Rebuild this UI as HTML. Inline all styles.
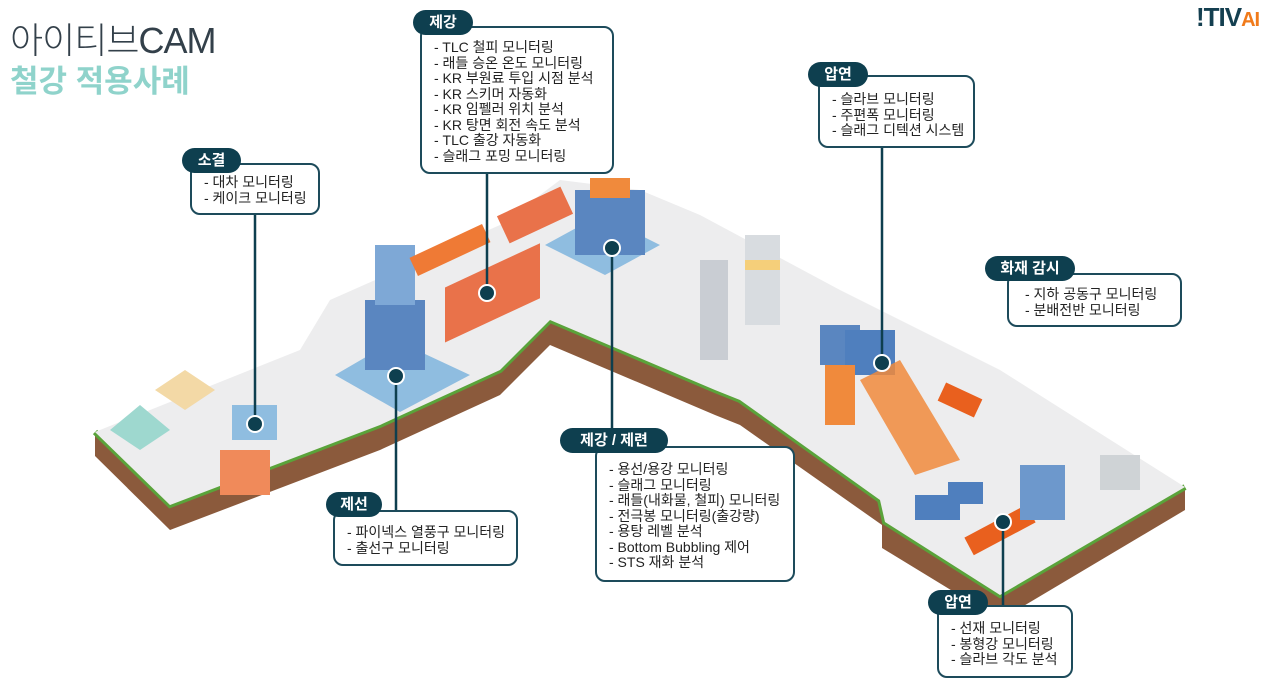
<!DOCTYPE html>
<html><head><meta charset="utf-8"><style>
*{margin:0;padding:0;box-sizing:border-box}
body{width:1280px;height:684px;background:#fff;position:relative;overflow:hidden;font-family:"Liberation Sans","Noto Sans CJK KR",sans-serif}
.box{position:absolute;background:#fff;border:2px solid #1d4b5b;border-radius:10px;font-size:14px;color:#222;line-height:15.5px;padding-left:12px;white-space:nowrap}
.tag{position:absolute;background:#0e3f4f;color:#fff;font-weight:bold;font-size:15px;border-radius:13px;text-align:center;line-height:25px;height:25px}
.t1{position:absolute;left:10px;top:12px;font-size:36px;color:#33404a;letter-spacing:-1px;font-weight:300}
.t2{position:absolute;left:10px;top:56px;font-size:31px;color:#8fd3cb;font-weight:bold}
</style></head><body>
<svg width="1280" height="684" style="position:absolute;left:0;top:0">
<g>
<polygon points="95,432 170,505 380,425 500,370 550,320 715,390 740,400 880,500 885,522 1000,595 1185,487 1185,510 1000,620 882,548 882,525 740,425 715,415 550,345 500,395 380,450 170,530 95,456" fill="#8b5a3c"/>
<polyline points="95,432 170,505 380,425 500,370 550,320 715,390 740,400 880,500 885,522 1000,595 1185,487" fill="none" stroke="#5aa33a" stroke-width="6"/>
<polygon points="95,432 300,350 330,300 500,225 560,180 640,190 700,215 840,290 1000,370 1185,487 1000,595 885,522 880,500 740,400 715,390 550,320 500,370 380,425 170,505" fill="#ededee"/>
</g>
<polygon points="335,375 395,340 470,375 400,412" fill="#8fbde0"/>
<rect x="365" y="300" width="60" height="70" fill="#5a86c0"/>
<rect x="375" y="245" width="40" height="60" fill="#7ea8d6"/>
<polygon points="545,245 600,215 660,245 605,275" fill="#8fbde0"/>
<rect x="575" y="190" width="70" height="65" fill="#5a86c0"/>
<rect x="590" y="178" width="40" height="20" fill="#f08a3c"/>
<rect x="445" y="275" width="95" height="55" fill="#e9724a" transform="skewY(-25) translate(0,220)"/>
<rect x="410" y="240" width="80" height="20" fill="#ef7a35" transform="rotate(-25 450 250)"/>
<rect x="500" y="200" width="70" height="30" fill="#e9724a" transform="rotate(-25 535 215)"/>
<rect x="700" y="260" width="28" height="100" fill="#c9cdd3"/>
<rect x="745" y="235" width="35" height="90" fill="#d8dce0"/>
<rect x="745" y="260" width="35" height="10" fill="#f5cf7a"/>
<rect x="820" y="325" width="40" height="40" fill="#5a86c0"/>
<rect x="845" y="330" width="50" height="45" fill="#4f7fbe"/>
<rect x="825" y="365" width="30" height="60" fill="#f08a3c"/>
<polygon points="860,380 900,360 960,460 915,475" fill="#f08a3c" opacity=".85"/>
<rect x="940" y="390" width="40" height="20" fill="#e9601e" transform="rotate(25 960 400)"/>
<rect x="965" y="520" width="70" height="20" fill="#e9601e" transform="rotate(-28 1000 530)"/>
<rect x="1020" y="465" width="45" height="55" fill="#6d98cc"/>
<rect x="915" y="495" width="45" height="25" fill="#4f7fbe"/>
<rect x="948" y="482" width="35" height="22" fill="#4f7fbe"/>
<rect x="1100" y="455" width="40" height="35" fill="#cfd3d6"/>
<rect x="220" y="450" width="50" height="45" fill="#f08a5a"/>
<rect x="232" y="405" width="45" height="35" fill="#8fbde0"/>
<polygon points="110,430 140,405 170,430 140,450" fill="#9ed8cf"/>
<polygon points="155,390 185,370 215,390 185,410" fill="#f3d9a6"/>
<g stroke="#0e3f4f" stroke-width="2.5">
<line x1="255" y1="215" x2="255" y2="424"/>
<line x1="487" y1="174" x2="487" y2="293"/>
<line x1="882" y1="148" x2="882" y2="363"/>
<line x1="612" y1="248" x2="612" y2="446"/>
<line x1="396" y1="376" x2="396" y2="510"/>
<line x1="1003" y1="522" x2="1003" y2="605"/>
</g>
<g fill="#0e3f4f" stroke="#fff" stroke-width="2">
<circle cx="255" cy="424" r="8"/><circle cx="487" cy="293" r="8"/><circle cx="882" cy="363" r="8"/>
<circle cx="612" cy="248" r="8"/><circle cx="396" cy="376" r="8"/><circle cx="1003" cy="522" r="8"/>
</g>
</svg>
<div class="t1">아이티브CAM</div>
<div class="t2">철강 적용사례</div>
<div style="position:absolute;left:1196px;top:2px;font-size:26px;font-weight:bold;color:#143f50;letter-spacing:-1px">!TIV<span style="color:#f07a1a;font-size:20px">AI</span></div>

<div class="box" style="left:420px;top:26px;width:194px;height:148px;padding-top:12px">- TLC 철피 모니터링<br>- 래들 승온 온도 모니터링<br>- KR 부원료 투입 시점 분석<br>- KR 스키머 자동화<br>- KR 임펠러 위치 분석<br>- KR 탕면 회전 속도 분석<br>- TLC 출강 자동화<br>- 슬래그 포밍 모니터링</div>
<div class="tag" style="left:413px;top:10px;width:60px">제강</div>

<div class="box" style="left:190px;top:163px;width:130px;height:52px;padding-top:10px">- 대차 모니터링<br>- 케이크 모니터링</div>
<div class="tag" style="left:182px;top:148px;width:59px">소결</div>

<div class="box" style="left:818px;top:75px;width:157px;height:73px;padding-top:15px">- 슬라브 모니터링<br>- 주편폭 모니터링<br>- 슬래그 디텍션 시스템</div>
<div class="tag" style="left:808px;top:62px;width:60px">압연</div>

<div class="box" style="left:1007px;top:273px;width:175px;height:54px;padding-top:12px;padding-left:16px">- 지하 공동구 모니터링<br>- 분배전반 모니터링</div>
<div class="tag" style="left:985px;top:256px;width:90px">화재 감시</div>

<div class="box" style="left:595px;top:446px;width:200px;height:136px;padding-top:14px">- 용선/용강 모니터링<br>- 슬래그 모니터링<br>- 래들(내화물, 철피) 모니터링<br>- 전극봉 모니터링(출강량)<br>- 용탕 레벨 분석<br>- Bottom Bubbling 제어<br>- STS 재화 분석</div>
<div class="tag" style="left:560px;top:428px;width:108px">제강 / 제련</div>

<div class="box" style="left:333px;top:510px;width:185px;height:56px;padding-top:13px">- 파이넥스 열풍구 모니터링<br>- 출선구 모니터링</div>
<div class="tag" style="left:326px;top:492px;width:56px">제선</div>

<div class="box" style="left:937px;top:605px;width:136px;height:73px;padding-top:14px">- 선재 모니터링<br>- 봉형강 모니터링<br>- 슬라브 각도 분석</div>
<div class="tag" style="left:928px;top:590px;width:60px">압연</div>
</body></html>
